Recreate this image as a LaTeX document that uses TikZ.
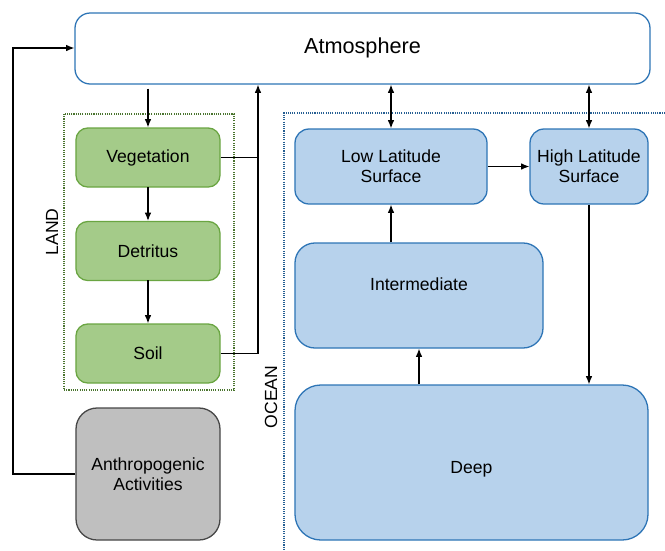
\documentclass[tikz,border=0pt]{standalone}
\usepackage{fontspec}
\setmainfont{Liberation Sans}
\usetikzlibrary{arrows.meta}
\definecolor{vegfill}{RGB}{164,203,137}
\definecolor{vegdraw}{RGB}{106,165,66}
\definecolor{seafill}{RGB}{183,210,236}
\definecolor{seadraw}{RGB}{46,117,182}
\definecolor{manfill}{RGB}{191,191,191}
\definecolor{mandraw}{RGB}{70,70,70}
\begin{document}
\begin{tikzpicture}[x=0.03cm, y=-0.03cm,
        every node/.style={font=\fontsize{15}{17}\selectfont, inner sep=0pt},
        landcell/.style={rectangle, draw=vegdraw, fill=vegfill, line width=1.1pt, rounded corners=10pt, minimum width=4.32cm, minimum height=1.77cm, align=center},
        seacell/.style={rectangle, draw=seadraw, fill=seafill, line width=1.1pt, align=center},
        arrow/.style={-{Latex[length=2.5mm, width=2mm]}, line width=0.9pt},
        biarrow/.style={{Latex[length=2.5mm, width=2mm]}-{Latex[length=2.5mm, width=2mm]}, line width=0.9pt}
    ]
        \useasboundingbox (0,0) rectangle (665,550);
        % regions
        \draw[vegdraw!70!black, densely dotted, line width=0.9pt] (64,114) rectangle (234,390);
        \draw[seadraw!80!black, densely dotted, line width=0.9pt] (665,113) -- (284,113) -- (284,550);
        \node[rotate=90] (landlbl) at (52,232) {LAND};
        \node[rotate=90] (oceanlbl) at (271,397) {OCEAN};
        % boxes
        \node[rectangle, draw=seadraw, fill=white, line width=1.1pt, rounded corners=13pt, minimum width=17.25cm, minimum height=2.13cm, text depth=0.2cm, font=\fontsize{18.5}{20}\selectfont] (atm) at (362.5,48.5) {Atmosphere};
        \node[landcell] (veg) at (148,157.5) {Vegetation};
        \node[landcell] (det) at (148,251) {Detritus};
        \node[landcell] (soil) at (148,353.5) {Soil};
        \node[rectangle, draw=mandraw, fill=manfill, line width=1.1pt, rounded corners=18pt, minimum width=4.32cm, minimum height=3.96cm, align=center] (anthro) at (148,474) {Anthropogenic\\Activities};
        \node[seacell, rounded corners=12pt, minimum width=5.76cm, minimum height=2.25cm] (low) at (391,166.5) {Low Latitude\\Surface};
        \node[seacell, rounded corners=12pt, minimum width=3.54cm, minimum height=2.25cm] (high) at (589,166.5) {High Latitude\\Surface};
        \node[seacell, rounded corners=17pt, minimum width=7.44cm, minimum height=3.15cm, text depth=0.7cm] (inter) at (419,295.5) {Intermediate};
        \node[seacell, rounded corners=22pt, minimum width=10.59cm, minimum height=4.65cm, text height=0.75cm] (deep) at (471.5,462.5) {Deep};
        % land fluxes
        \coordinate (lft) at (13,48);
        \coordinate (rjoin) at (258,158);
        \draw[arrow] (atm.south -| veg) ++(0,4) -- (veg.north);
        \draw[arrow] (veg) ++(0,29.5) -- (det.north);
        \draw[arrow] (det) ++(0,29) -- (soil.north);
        \draw[line width=0.9pt] (veg.east) -- (veg.east -| rjoin);
        \draw[arrow] (soil.east) -| (atm.south -| rjoin);
        \draw[arrow] (anthro.west) -| (lft) -- (atm.west |- lft);
        % ocean fluxes
        \draw[biarrow] (atm.south -| low) -- (low.north);
        \draw[biarrow] (atm.south -| high) -- (high.north);
        \draw[arrow] (low.east) -- (high.west);
        \draw[arrow] (inter.north -| low) -- (low.south);
        \draw[arrow] (deep.north -| inter) -- (inter.south);
        \draw[arrow] (high.south) -- (high.south |- deep.north);
    \end{tikzpicture}
\end{document}
